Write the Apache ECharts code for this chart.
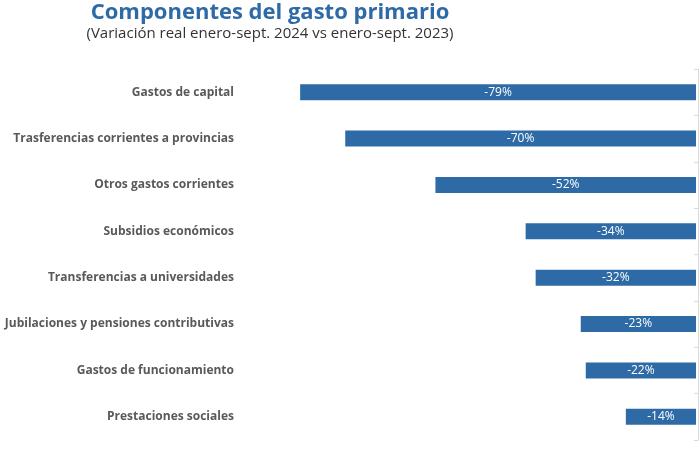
<!DOCTYPE html>
<html>
<head>
<meta charset="utf-8">
<script src="https://cdn.jsdelivr.net/npm/echarts@6/dist/echarts.min.js"></script>
<style>
  html, body { margin: 0; padding: 0; background: #fff; }
  #chart { width: 700px; height: 453px; }
</style>
</head>
<body>
<div id="chart"></div>
<script>
// categorías de arriba hacia abajo
var categorias = [
  'Gastos de capital',
  'Trasferencias corrientes a provincias',
  'Otros gastos corrientes',
  'Subsidios económicos',
  'Transferencias a universidades',
  'Jubilaciones y pensiones contributivas',
  'Gastos de funcionamiento',
  'Prestaciones sociales'
];
// variación real en %
var variacion = [-79, -70, -52, -34, -32, -23, -22, -14];

var azul = '#2E6BA6';

var myChart = echarts.init(document.getElementById('chart'));

var option = {
  animation: false,
  title: [
    {
      text: 'Componentes del gasto primario',
      left: 265,
      top: -3,
      textAlign: 'center',
      textStyle: { color: azul, fontSize: 22, fontWeight: 'bold', fontFamily: 'Open Sans' }
    },
    {
      text: '(Variación real enero-sept. 2024 vs enero-sept. 2023)',
      left: 265,
      top: 21,
      textAlign: 'center',
      textStyle: { color: '#333', fontSize: 15, fontWeight: 'normal', fontFamily: 'Open Sans' }
    }
  ],
  grid: { left: 240, right: 4, top: 69, bottom: 13, containLabel: false, outerBoundsMode: 'none' },
  xAxis: {
    type: 'value',
    min: -91,
    max: 0,
    show: false
  },
  yAxis: [
    {
      type: 'category',
      data: categorias,
      inverse: true,
      position: 'left',
      axisLine: { show: false, onZero: false },
      axisTick: { show: false },
      axisLabel: {
        color: '#595959',
        fontSize: 12,
        fontWeight: 'bold',
        fontFamily: 'Open Sans',
        margin: 6
      }
    },
    {
      type: 'category',
      data: categorias,
      inverse: true,
      position: 'right',
      offset: 2,
      axisLine: { show: true, onZero: false, lineStyle: { color: '#d9d9d9' } },
      axisTick: { show: true, inside: true, length: 4, lineStyle: { color: '#d9d9d9' } },
      axisLabel: { show: false }
    }
  ],
  series: [
    {
      type: 'bar',
      data: variacion,
      barWidth: 16,
      itemStyle: { color: azul },
      label: {
        show: true,
        position: 'inside',
        color: '#fff',
        fontSize: 12,
        fontFamily: 'Open Sans',
        formatter: function (p) { return p.value + '%'; }
      }
    }
  ]
};

myChart.setOption(option);
</script>
</body>
</html>
